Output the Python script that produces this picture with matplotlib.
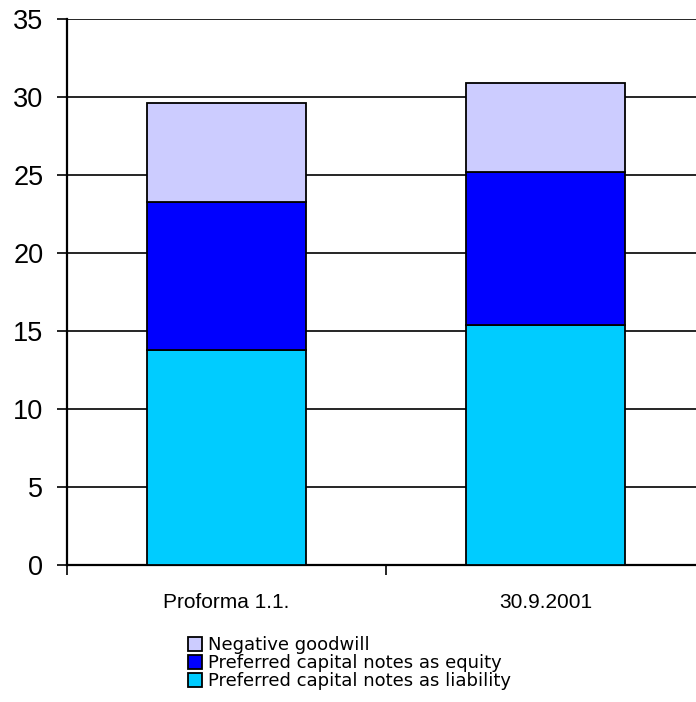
import matplotlib
matplotlib.use("Agg")
import matplotlib.pyplot as plt
from matplotlib.patches import Patch
import numpy as np

categories = ["Proforma 1.1.", "30.9.2001"]
liability = [13.8, 15.4]
equity = [9.5, 9.8]
goodwill = [6.3, 5.7]
series_labels = ["Preferred capital notes as liability",
                 "Preferred capital notes as equity",
                 "Negative goodwill"]
colors = ["#00CCFF", "#0000FF", "#CCCCFF"]
yticks = [0, 5, 10, 15, 20, 25, 30, 35]

fig = plt.figure(figsize=(6.96, 7.02), dpi=100)
ax = fig.add_axes([67 / 696, (702 - 565) / 702, 638 / 696, 546 / 702])

x = np.arange(len(categories))
bottom = np.zeros(len(categories))
handles = []
for vals, col, lab in zip([liability, equity, goodwill], colors, series_labels):
    ax.bar(x, vals, width=0.5, bottom=bottom, color=col, edgecolor="black",
           linewidth=1.3, zorder=3)
    bottom += np.array(vals)
    handles.append(Patch(facecolor=col, edgecolor="black", linewidth=1.3, label=lab))

ax.set_xlim(-0.5, 1.5)
ax.set_ylim(0, 35)
ax.set_yticks(yticks)
ax.set_yticklabels([str(t) for t in yticks], fontsize=19.5, family="Liberation Sans")
ax.yaxis.grid(True, color="black", linewidth=1.2, zorder=0)
ax.set_axisbelow(True)

ax.set_xticks([-0.5, 0.5, 1.5])
ax.set_xticklabels([])
ax.set_xticks(x, minor=True)
ax.set_xticklabels(categories, minor=True, fontsize=15, family="Liberation Sans")
ax.tick_params(axis="x", which="minor", length=0, pad=20)
ax.tick_params(axis="x", which="major", length=7, width=1.2, direction="out")
ax.tick_params(axis="y", length=7, width=1.2, direction="out", pad=10)

for s in ["top", "right"]:
    ax.spines[s].set_visible(False)
for s in ["left", "bottom"]:
    ax.spines[s].set_linewidth(1.6)

fig.legend(handles=handles[::-1], loc="upper left",
           bbox_to_anchor=(188 / 696, 1 - 636 / 702), frameon=False,
           prop={"family": "DejaVu Sans", "size": 13},
           handlelength=0.8, handleheight=0.8, handletextpad=0.3,
           labelspacing=0.0, borderpad=0, borderaxespad=0)

fig.savefig("out.png", dpi=100)
